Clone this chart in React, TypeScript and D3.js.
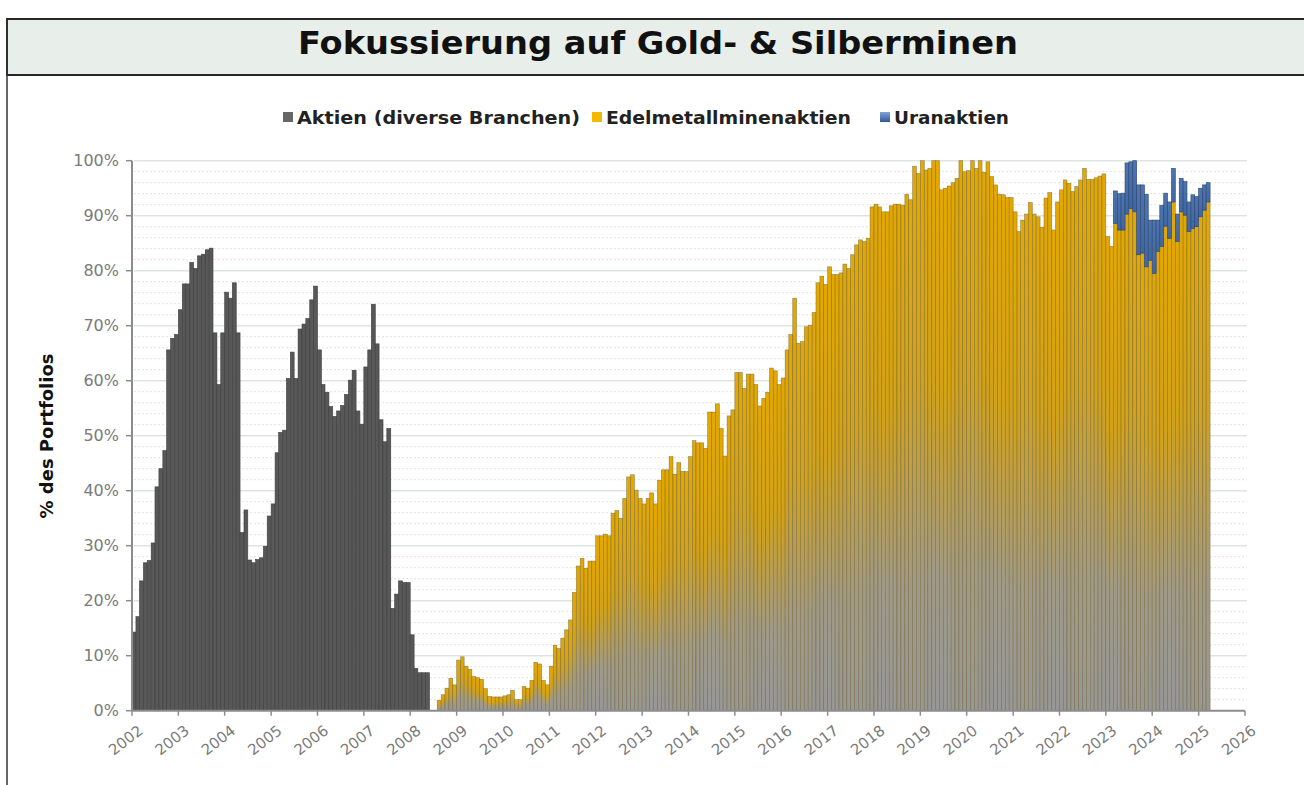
import React from 'react';
import * as d3 from 'd3';

// monthly shares in % of portfolio
const aktienStart = '2002-01';
const aktien = [
  14.3, 17.1, 23.6, 26.9, 27.3, 30.5, 40.7, 44.0, 47.3, 65.6, 67.7, 68.4,
  72.9, 77.6, 77.6, 81.5, 80.4, 82.7, 83.0, 83.8, 84.1, 68.7, 59.3, 68.7,
  76.1, 75.0, 77.8, 68.7, 32.4, 36.5, 27.4, 26.9, 27.5, 27.8, 29.9, 35.4,
  37.6, 46.9, 50.6, 51.0, 60.4, 65.2, 60.4, 69.4, 70.3, 71.3, 74.7, 77.2,
  65.6, 59.3, 57.9, 55.3, 53.5, 54.5, 55.5, 57.5, 60.1, 61.9, 54.5, 52.1,
  62.5, 65.6, 73.9, 66.7, 52.9, 48.9, 51.3, 18.6, 21.2, 23.6, 23.3, 23.3,
  13.8, 7.7, 6.9, 6.9, 6.9,
];

const edelStart = '2008-08';
const edelmetall = [
  1.9, 2.9, 4.1, 5.9, 4.7,
  9.2, 9.8, 8.1, 7.5, 6.2, 6.0, 5.7, 4.0, 2.6, 2.5, 2.5, 2.5,
  2.7, 2.9, 3.7, 2.0, 2.0, 4.4, 4.1, 5.5, 8.8, 8.5, 5.5, 4.7,
  8.1, 11.9, 11.3, 13.2, 14.7, 16.5, 21.5, 26.3, 27.7, 25.9, 27.2, 27.2,
  31.8, 31.8, 32.1, 31.8, 35.9, 36.4, 35.0, 38.6, 42.5, 42.9, 40.1, 38.6,
  37.6, 38.6, 39.6, 37.6, 41.9, 43.8, 43.8, 46.2, 43.0, 45.1, 43.5, 43.5,
  46.2, 49.1, 48.7, 48.7, 47.7, 54.3, 54.3, 55.8, 51.3, 46.3, 53.6, 54.7,
  61.5, 61.5, 58.6, 61.2, 61.2, 59.3, 55.4, 56.8, 57.9, 62.3, 61.8, 59.3,
  60.5, 65.6, 68.4, 75.0, 66.8, 67.1, 69.8, 70.1, 72.4, 77.8, 79.0, 77.5,
  80.7, 79.3, 79.3, 79.6, 81.2, 80.4, 82.9, 84.7, 85.6, 85.3, 85.9, 91.6,
  92.1, 91.6, 90.7, 90.7, 91.8, 92.1, 92.1, 91.9, 93.9, 92.9, 99.0, 97.7,
  100, 98.3, 98.6, 100, 100, 94.7, 95.0, 95.4, 96.0, 96.8, 100, 98.0,
  98.2, 100, 98.6, 100, 97.9, 99.8, 97.1, 95.6, 93.9, 93.8, 93.3, 93.3,
  90.7, 87.1, 89.2, 90.3, 92.4, 90.3, 89.8, 87.9, 93.2, 94.2, 87.4, 92.5,
  94.7, 96.5, 95.9, 94.4, 95.3, 96.5, 98.6, 96.6, 96.6, 96.9, 97.2, 97.6,
  86.2, 84.4, 88.6, 87.4, 87.4, 90.3, 91.3, 90.7, 82.9, 83.2, 80.7, 81.9,
  79.5, 83.5, 84.4, 88.1, 85.9, 92.5, 85.3, 90.7, 90.1, 87.1, 87.7, 88.0,
  89.8, 91.0, 92.5,
];

const uranStart = '2023-03';
const uran = [
  5.9, 6.6, 6.7, 9.3, 8.5, 9.3, 12.7, 12.4, 13.2, 7.3,
  9.7, 5.7, 7.5, 6.0, 6.6, 6.1, 5.0, 6.1, 6.1, 5.4, 6.1, 5.5,
  5.2, 4.6, 3.5,
];

const yTicks = [0, 10, 20, 30, 40, 50, 60, 70, 80, 90, 100];
const yearTicks = [2002, 2003, 2004, 2005, 2006, 2007, 2008, 2009, 2010, 2011, 2012, 2013,
  2014, 2015, 2016, 2017, 2018, 2019, 2020, 2021, 2022, 2023, 2024, 2025, 2026];

const legendItems = [
  { label: 'Aktien (diverse Branchen)', color: '#666666', x: 283, w: 283 },
  { label: 'Edelmetallminenaktien', color: '#F5B800', x: 592, w: 245 },
  { label: 'Uranaktien', color: '#4A72B0', x: 880, w: 115 },
];

const parseMonth = d3.timeParse('%Y-%m');

const App = () => {
  const width = 1304;
  const height = 785;
  const left = 132;
  const right = 1245;
  const top = 160.7;
  const bottom = 710.7;

  const x = d3.scaleTime()
    .domain([new Date(2002, 0, 1), new Date(2026, 0, 1)])
    .range([left, right]);
  const y = d3.scaleLinear().domain([0, 100]).range([bottom, top]);

  const toBars = (start, values, base) => {
    const s = parseMonth(start);
    return values.map((v, i) => {
      const m0 = d3.timeMonth.offset(s, i);
      const m1 = d3.timeMonth.offset(s, i + 1);
      const b = base ? base(m0) : 0;
      return { x0: x(m0), x1: x(m1), lo: b, hi: b + v };
    });
  };

  // uranium sits on top of the precious metal miners
  const edelByMonth = new Map();
  {
    const s = parseMonth(edelStart);
    edelmetall.forEach((v, i) => edelByMonth.set(+d3.timeMonth.offset(s, i), v));
  }

  const aktienBars = toBars(aktienStart, aktien, null);
  const edelBars = toBars(edelStart, edelmetall, null);
  const uranBars = toBars(uranStart, uran, (d) => edelByMonth.get(+d) || 0);

  const minorTicks = d3.range(0, 101, 2).filter((t) => t % 10 !== 0);
  const axisGray = '#8c8c8c';
  const labelGray = '#7a7a7a';

  return (
    <div style={{ position: 'absolute', left: 0, top: 0 }}>
      <svg width={width} height={height} style={{ display: 'block', background: '#fff' }}
        fontFamily="'DejaVu Sans', Verdana, sans-serif">
        <defs>
          <linearGradient id="goldFill" x1="0" y1="0" x2="0" y2="1">
            <stop offset="0" stopColor="#E3A800" />
            <stop offset="0.4" stopColor="#D3A218" />
            <stop offset="0.75" stopColor="#A09A86" />
            <stop offset="1" stopColor="#979797" />
          </linearGradient>
          <linearGradient id="blueFill" x1="0" y1="0" x2="0" y2="1">
            <stop offset="0" stopColor="#4D75B0" />
            <stop offset="1" stopColor="#3F67A2" />
          </linearGradient>
          <linearGradient id="blueKey" x1="0" y1="0" x2="0" y2="1">
            <stop offset="0" stopColor="#7FA3D6" />
            <stop offset="1" stopColor="#2F5A98" />
          </linearGradient>
        </defs>

        {/* frame + title band */}
        <rect x={7} y={19} width={1310} height={56} fill="#E8EEEA" stroke="#262626" strokeWidth={2} />
        <line x1={7} y1={19} x2={7} y2={785} stroke="#333" strokeWidth={1.5} />
        <text x={658} y={54} textAnchor="middle" fontSize={32} fontWeight="bold" fill="#111"
          textLength={720} lengthAdjust="spacingAndGlyphs">
          Fokussierung auf Gold- &amp; Silberminen
        </text>

        {/* legend */}
        {legendItems.map((d) => (
          <g key={d.label}>
            <rect x={d.x} y={112} width={10} height={10}
              fill={d.label === 'Uranaktien' ? 'url(#blueKey)' : d.color} />
            <text x={d.x + 14} y={124} fontSize={17} fontWeight="bold" fill="#222"
              textLength={d.w} lengthAdjust="spacingAndGlyphs">{d.label}</text>
          </g>
        ))}

        {/* grid */}
        <g>
          {minorTicks.map((t) => (
            <line key={'m' + t} x1={left + 2} x2={1247} y1={y(t)} y2={y(t)}
              stroke="#e0e2e1" strokeWidth={1} strokeDasharray="2,2" />
          ))}
          {yTicks.filter((t) => t > 0).map((t) => (
            <line key={'g' + t} x1={left + 2} x2={1247} y1={y(t)} y2={y(t)}
              stroke="#dde5e1" strokeWidth={1.6} />
          ))}
        </g>

        {/* bars */}
        <g>
          {aktienBars.map((d, i) => (
            <rect key={'a' + i} x={d.x0} y={y(d.hi)} width={d.x1 - d.x0} height={y(d.lo) - y(d.hi)}
              fill="#585858" stroke="#3e3e3e" strokeWidth={0.6} />
          ))}
          {edelBars.map((d, i) => (
            <rect key={'e' + i} x={d.x0} y={y(d.hi)} width={d.x1 - d.x0} height={y(d.lo) - y(d.hi)}
              fill="url(#goldFill)" stroke="#6f6030" strokeOpacity={0.7} strokeWidth={0.6} />
          ))}
          {uranBars.map((d, i) => (
            <rect key={'u' + i} x={d.x0} y={y(d.hi)} width={d.x1 - d.x0} height={y(d.lo) - y(d.hi)}
              fill="url(#blueFill)" stroke="#2b4470" strokeWidth={0.6} />
          ))}
        </g>

        {/* y axis */}
        <line x1={left} x2={left} y1={top} y2={bottom} stroke={axisGray} strokeWidth={2} />
        {yTicks.map((t) => (
          <g key={'y' + t}>
            <line x1={left - 6} x2={left} y1={y(t)} y2={y(t)} stroke={axisGray} strokeWidth={1.5} />
            <text x={left - 13} y={y(t)} dy="0.36em" textAnchor="end" fontSize={16} fill={labelGray}>
              {t + '%'}
            </text>
          </g>
        ))}
        <text transform={`translate(53, 436) rotate(-90)`} textAnchor="middle" fontSize={18}
          fontWeight="bold" fill="#111">% des Portfolios</text>

        {/* x axis */}
        <line x1={left} x2={right} y1={bottom} y2={bottom} stroke={axisGray} strokeWidth={2} />
        {yearTicks.map((yr) => {
          const tx = x(new Date(yr, 0, 1));
          return (
            <g key={'x' + yr}>
              <line x1={tx} x2={tx} y1={bottom} y2={bottom + 5} stroke={axisGray} strokeWidth={1.5} />
              <text transform={`translate(${tx + 5}, ${bottom + 13}) rotate(-38)`} textAnchor="end"
                dy="0.75em" fontSize={15} fill={labelGray}>{yr}</text>
            </g>
          );
        })}
      </svg>
    </div>
  );
};

export default App;
